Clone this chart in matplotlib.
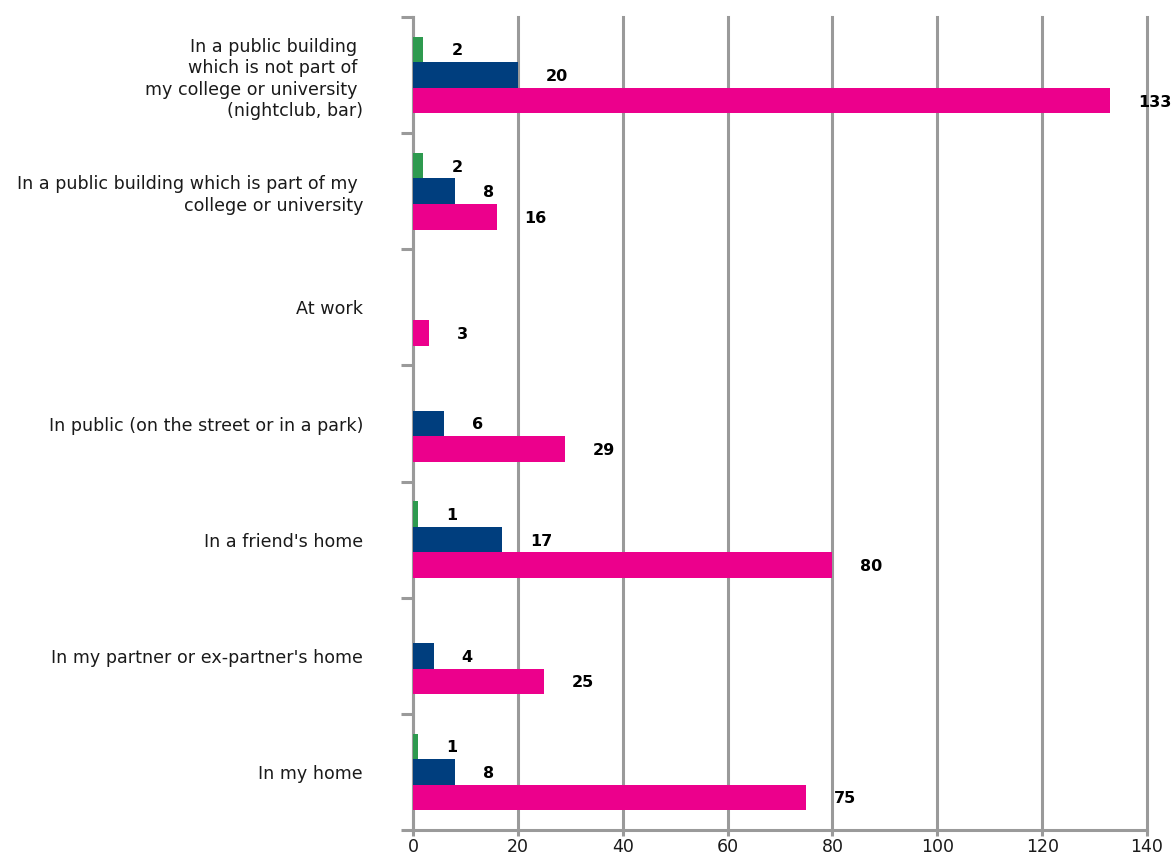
import numpy as np
import matplotlib
matplotlib.use('Agg')
import matplotlib.pyplot as plt

# Data (top to bottom as in the chart)
categories = [
    "In a public building \nwhich is not part of \nmy college or university \n(nightclub, bar)",
    "In a public building which is part of my \ncollege or university",
    "At work",
    "In public (on the street or in a park)",
    "In a friend's home",
    "In my partner or ex-partner's home",
    "In my home",
]
green_vals = [2, 2, None, None, 1, None, 1]
blue_vals = [20, 8, None, 6, 17, 4, 8]
pink_vals = [133, 16, 3, 29, 80, 25, 75]
x_ticks = [0, 20, 40, 60, 80, 100, 120, 140]

GREEN = '#2e9a4f'
BLUE = '#003e7e'
PINK = '#ec008c'
GRID = '#9a9a9a'
TEXT = '#1a1a1a'

plt.rcParams['font.family'] = ['DejaVu Sans']

fig = plt.figure(figsize=(11.72, 8.58), dpi=100)
ax = fig.add_axes([0.3524, 0.0326, 0.6263, 0.9476])

n = len(categories)
centers = np.arange(n)[::-1] + 0.5   # first category at top
bar_h = 0.22

series = [(green_vals, GREEN, bar_h), (blue_vals, BLUE, 0.0), (pink_vals, PINK, -bar_h)]
for vals, color, off in series:
    for c, v in zip(centers, vals):
        if v is None:
            continue
        ax.barh(c + off, v, height=bar_h, color=color, edgecolor='none', zorder=3)
        ax.annotate(str(v), xy=(v, c + off), xytext=(20, -1), textcoords='offset points',
                    ha='left', va='center', fontsize=11.5, fontweight='bold', color='black',
                    annotation_clip=False, zorder=4)

ax.set_xlim(0, 140)
ax.set_ylim(0, n)
ax.set_xticks(x_ticks)
ax.set_xticklabels([str(t) for t in x_ticks], fontsize=12.5, color=TEXT)
ax.xaxis.grid(True, color=GRID, linewidth=2.2, zorder=0)
ax.set_axisbelow(True)
for gl in ax.get_xgridlines():
    gl.set_clip_on(False)

# category boundaries as major ticks, labels on minor ticks
ax.set_yticks(np.arange(n + 1))
ax.set_yticklabels([])
ax.set_yticks(centers, minor=True)
ax.set_yticklabels(categories, minor=True, fontsize=12.6, color=TEXT, ha='right',
                   linespacing=1.25)
ax.tick_params(axis='y', which='major', length=9, width=2.2, color=GRID, direction='out')
ax.tick_params(axis='y', which='minor', length=0, pad=36)
ax.tick_params(axis='x', which='major', length=4, width=2.2, color=GRID, pad=1.5)

for s in ['top', 'right']:
    ax.spines[s].set_visible(False)
for s in ['left', 'bottom']:
    ax.spines[s].set_color(GRID)
    ax.spines[s].set_linewidth(2.2)

fig.savefig('out.png', dpi=100)
